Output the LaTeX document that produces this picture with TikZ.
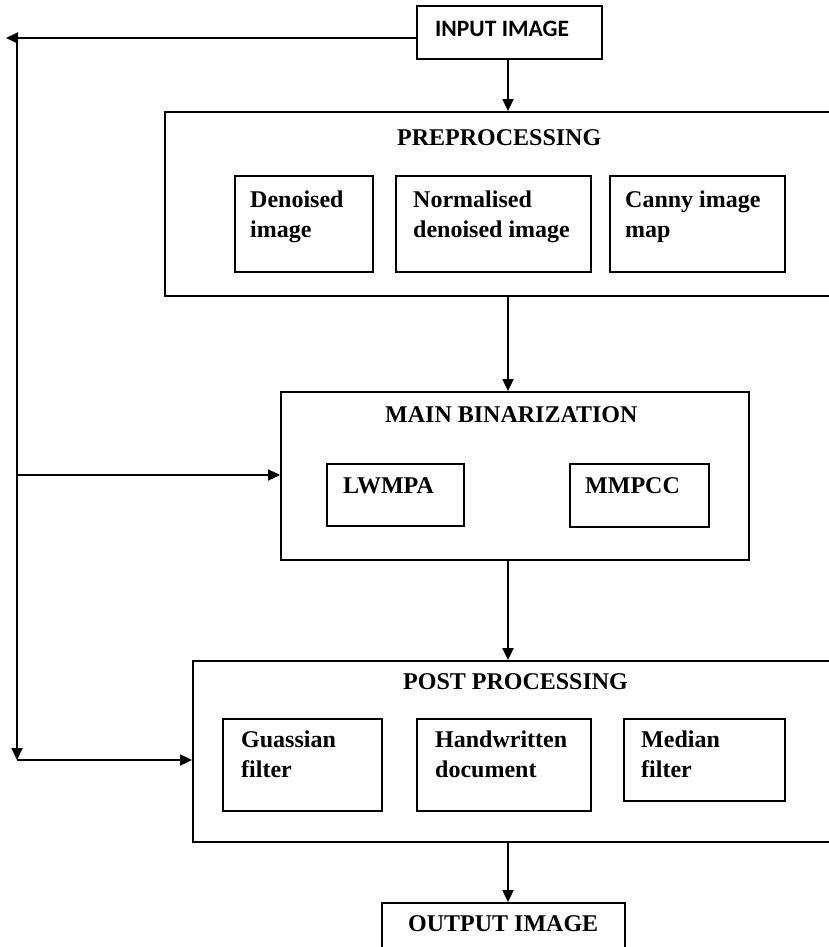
\documentclass[tikz,border=0pt]{standalone}
\usepackage{fontspec}
\setmainfont{Liberation Serif}
\newfontfamily\calibfont{Carlito}
\usetikzlibrary{arrows.meta}
\begin{document}
\begin{tikzpicture}[x=1pt,y=-1pt,
  box/.style={draw, line width=1.8pt, inner sep=0pt},
  txt/.style={anchor=base west, inner sep=0pt, align=left, font=\fontsize{24}{30}\selectfont\bfseries},
  arr/.style={line width=1.8pt, -{Triangle[length=12pt,width=11pt]}}]
\useasboundingbox[fill=white] (0,0) rectangle (828,947);

% boxes
\node[box, minimum width=185pt, minimum height=53pt] (in) at (509.5,32.5) {};
\node[box, minimum width=666pt, minimum height=184pt] (pre) at (498,204) {};
\node[box, minimum width=138pt, minimum height=96pt] (den) at (304,224) {};
\node[box, minimum width=195pt, minimum height=96pt] (nor) at (493.5,224) {};
\node[box, minimum width=175pt, minimum height=96pt] (can) at (697.5,224) {};
\node[box, minimum width=468pt, minimum height=168pt] (main) at (515,476) {};
\node[box, minimum width=137pt, minimum height=62pt] (lw) at (395.5,495) {};
\node[box, minimum width=139pt, minimum height=63pt] (mm) at (639.5,495.5) {};
\node[box, minimum width=638pt, minimum height=181pt] (post) at (512,751.5) {};
\node[box, minimum width=159pt, minimum height=92pt] (gu) at (302.5,765) {};
\node[box, minimum width=174pt, minimum height=92pt] (hw) at (504,765) {};
\node[box, minimum width=161pt, minimum height=82pt] (med) at (704.5,760) {};
\node[box, minimum width=243pt, minimum height=57pt] (out) at (503.5,931.5) {};

% texts (multi-line nodes: base = last line)
\node[anchor=base west, inner sep=0pt, font=\calibfont\fontsize{23.5}{28}\selectfont\bfseries] (tin) at (435,37) {INPUT IMAGE};
\node[txt] (tpre) at (397,145) {PREPROCESSING};
\node[txt] (tden) at (250,237) {Denoised\\image};
\node[txt] (tnor) at (413,237) {Normalised\\denoised image};
\node[txt] (tcan) at (625,237) {Canny image\\map};
\node[txt] (tmain) at (385,422) {MAIN BINARIZATION};
\node[txt] (tlw) at (343,493) {LWMPA};
\node[txt] (tmm) at (585,493) {MMPCC};
\node[txt] (tpost) at (403,689) {POST PROCESSING};
\node[txt] (tgu) at (241,777) {Guassian\\filter};
\node[txt] (thw) at (435,777) {Handwritten\\document};
\node[txt] (tmed) at (641,777) {Median\\filter};
\node[txt] (tout) at (408,931) {OUTPUT IMAGE};

% connectors
\coordinate (ax) at (508,0);
\coordinate (tl) at (6,38);
\coordinate (vt) at (17,38);
\coordinate (vb) at (17,760);
\coordinate (vm) at (17,475);
\draw[arr] (in.south -| ax) -- (pre.north -| ax);
\draw[arr] (pre.south -| ax) -- (main.north -| ax);
\draw[arr] (main.south -| ax) -- (post.north -| ax);
\draw[arr] (post.south -| ax) -- (out.north -| ax);
\draw[arr] (in.west |- tl) -- (tl);
\draw[arr] (vt) -- (vb);
\draw[arr] (vm) -- (main.west |- vm);
\draw[arr] (vb) -- (post.west |- vb);
\end{tikzpicture}
\end{document}
